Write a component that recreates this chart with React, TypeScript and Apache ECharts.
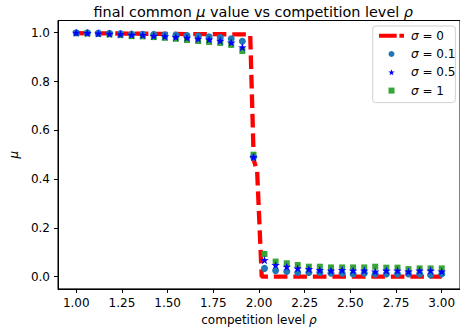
import React, { useEffect, useRef } from "react";
import * as echarts from "echarts";

// competition level rho (34 samples from 1 to 3)
const rho = [
  1.0, 1.061, 1.121, 1.182, 1.242, 1.303, 1.364, 1.424, 1.485, 1.545, 1.606,
  1.667, 1.727, 1.788, 1.848, 1.909, 1.97, 2.03, 2.091, 2.152, 2.212, 2.273,
  2.333, 2.394, 2.455, 2.515, 2.576, 2.636, 2.697, 2.758, 2.818, 2.879, 2.939,
  3.0,
];

// sigma = 0 curve (its own sampling)
const rho0 = [1.0, 1.5, 1.952, 1.971, 1.99, 2.015, 3.0];
const mu0 = [0.998, 0.995, 0.993, 0.48, 0.43, 0.0, 0.0];

const muSigma01 = [
  1.0, 1.0, 0.999, 0.998, 0.997, 0.995, 0.994, 0.993, 0.991, 0.99, 0.988, 0.986,
  0.983, 0.98, 0.975, 0.965, 0.49, 0.034, 0.025, 0.021, 0.017, 0.017, 0.017,
  0.014, 0.014, 0.011, 0.014, 0.011, 0.011, 0.011, 0.011, 0.011, 0.007, 0.011,
];
const muSigma05 = [
  1.0, 0.999, 0.997, 0.996, 0.994, 0.991, 0.99, 0.987, 0.985, 0.982, 0.979,
  0.975, 0.972, 0.967, 0.96, 0.94, 0.49, 0.068, 0.048, 0.041, 0.034, 0.031,
  0.027, 0.025, 0.027, 0.025, 0.025, 0.021, 0.025, 0.025, 0.021, 0.025, 0.025,
  0.021,
];
const muSigma1 = [
  0.998, 0.997, 0.995, 0.993, 0.99, 0.986, 0.985, 0.982, 0.979, 0.975, 0.97,
  0.966, 0.962, 0.958, 0.95, 0.925, 0.5, 0.093, 0.062, 0.055, 0.048, 0.041,
  0.041, 0.038, 0.038, 0.038, 0.038, 0.041, 0.037, 0.037, 0.031, 0.034, 0.034,
  0.034,
];

const xTicks = [1.0, 1.25, 1.5, 1.75, 2.0, 2.25, 2.5, 2.75, 3.0];
const yTicks = [0.0, 0.2, 0.4, 0.6, 0.8, 1.0];

const seriesNames = ["σ = 0", "σ = 0.1", "σ = 0.5", "σ = 1"];

const STAR =
  "path://M0,-10L2.35,-3.24L9.51,-3.09L3.8,1.24L5.88,8.09L0,4L-5.88,8.09L-3.8,1.24L-9.51,-3.09L-2.35,-3.24Z";
const SQUARE = "path://M0,0L10,0L10,10L0,10Z";

const FONT = "DejaVu Sans";

const pairs = (xs: number[], ys: number[]) => xs.map((x, i) => [x, ys[i]]);

export default function App() {
  const ref = useRef<HTMLDivElement>(null);
  useEffect(() => {
    if (!ref.current) return;
    const chart = echarts.init(ref.current, null, { renderer: "svg" });
    const italic = { fontStyle: "italic", fontFamily: FONT };
    chart.setOption({
      animation: false,
      backgroundColor: "#fff",
      title: {
        text: "final common {i|μ} value vs competition level {i|ρ}",
        left: 93.5,
        top: 4.5,
        padding: 0,
        textStyle: {
          fontFamily: FONT,
          fontSize: 14.4,
          fontWeight: "normal",
          color: "#000",
          lineHeight: 14.4,
          rich: { i: { ...italic, fontSize: 14.4, color: "#000", lineHeight: 14.4 } },
        },
      },
      grid: {
        left: 51.7,
        top: 20.5,
        width: 410.7,
        height: 268.4,
        show: true,
        borderColor: "#000",
        borderWidth: 1,
        backgroundColor: "transparent",
      },
      legend: {
        orient: "vertical",
        left: 372.7,
        top: 26,
        padding: [3.7, 0, 6, 4.3],
        itemWidth: 25,
        itemHeight: 6,
        itemGap: 6.3,
        backgroundColor: "#fff",
        borderColor: "#d0d0d0",
        borderWidth: 1,
        borderRadius: 3,
        data: [
          { name: seriesNames[0], lineStyle: { width: 4, type: [17.7, 2.7] } },
          seriesNames[1],
          seriesNames[2],
          seriesNames[3],
        ],
        formatter: (name: string) => "{i|σ}" + name.slice(1),
        textStyle: {
          fontFamily: FONT,
          fontSize: 12,
          color: "#000",
          lineHeight: 12,
          rich: {
            i: {
              ...italic,
              fontSize: 12,
              color: "#000",
              lineHeight: 12,
              padding: [0, 0, 0, 2],
            },
          },
        },
      },
      xAxis: {
        type: "value",
        min: 0.9,
        max: 3.1,
        name: "competition level {i|ρ}",
        nameLocation: "middle",
        nameGap: 24,
        nameTextStyle: {
          fontFamily: FONT,
          fontSize: 12,
          color: "#000",
          lineHeight: 12,
          rich: { i: { ...italic, fontSize: 12, color: "#000", lineHeight: 12 } },
        },
        splitLine: { show: false },
        axisLine: { show: true, onZero: false, lineStyle: { color: "#000", width: 1 } },
        axisTick: {
          show: true,
          inside: false,
          length: 4,
          customValues: xTicks,
          lineStyle: { color: "#000", width: 1 },
        },
        axisLabel: {
          customValues: xTicks,
          formatter: (v: number) => v.toFixed(2),
          fontFamily: FONT,
          fontSize: 12,
          color: "#000",
          margin: 8,
        },
      },
      yAxis: {
        type: "value",
        min: -0.05,
        max: 1.05,
        name: "μ",
        nameLocation: "middle",
        nameGap: 33,
        nameTextStyle: { ...italic, fontSize: 12, color: "#000" },
        splitLine: { show: false },
        axisLine: { show: true, onZero: false, lineStyle: { color: "#000", width: 1 } },
        axisTick: {
          show: true,
          inside: false,
          length: 4,
          customValues: yTicks,
          lineStyle: { color: "#000", width: 1 },
        },
        axisLabel: {
          customValues: yTicks,
          formatter: (v: number) => v.toFixed(1),
          fontFamily: FONT,
          fontSize: 12,
          color: "#000",
          margin: 8,
        },
      },
      series: [
        {
          name: seriesNames[0],
          type: "line",
          data: pairs(rho0, mu0),
          symbol: "none",
          z: 2,
          itemStyle: { color: "#ff0000", opacity: 0 },
          lineStyle: { color: "#ff0000", width: 4.3, type: [13.6, 5.9], cap: "butt" },
        },
        {
          name: seriesNames[3],
          type: "scatter",
          data: pairs(rho, muSigma1),
          symbol: SQUARE,
          symbolKeepAspect: true,
          symbolSize: 6,
          z: 3,
          itemStyle: { color: "#2ca02c", opacity: 0.95 },
        },
        {
          name: seriesNames[1],
          type: "scatter",
          data: pairs(rho, muSigma01),
          symbol: "circle",
          symbolSize: 7,
          z: 4,
          itemStyle: { color: "#1f77b4", opacity: 1 },
        },
        {
          name: seriesNames[2],
          type: "scatter",
          data: pairs(rho, muSigma05),
          symbol: STAR,
          symbolKeepAspect: true,
          symbolSize: 8.5,
          z: 5,
          itemStyle: { color: "#0000ff", opacity: 1 },
        },
      ],
    });
    return () => chart.dispose();
  }, []);
  return (
    <div
      ref={ref}
      style={{ position: "fixed", left: 0, top: 0, width: 460, height: 333 }}
    />
  );
}
